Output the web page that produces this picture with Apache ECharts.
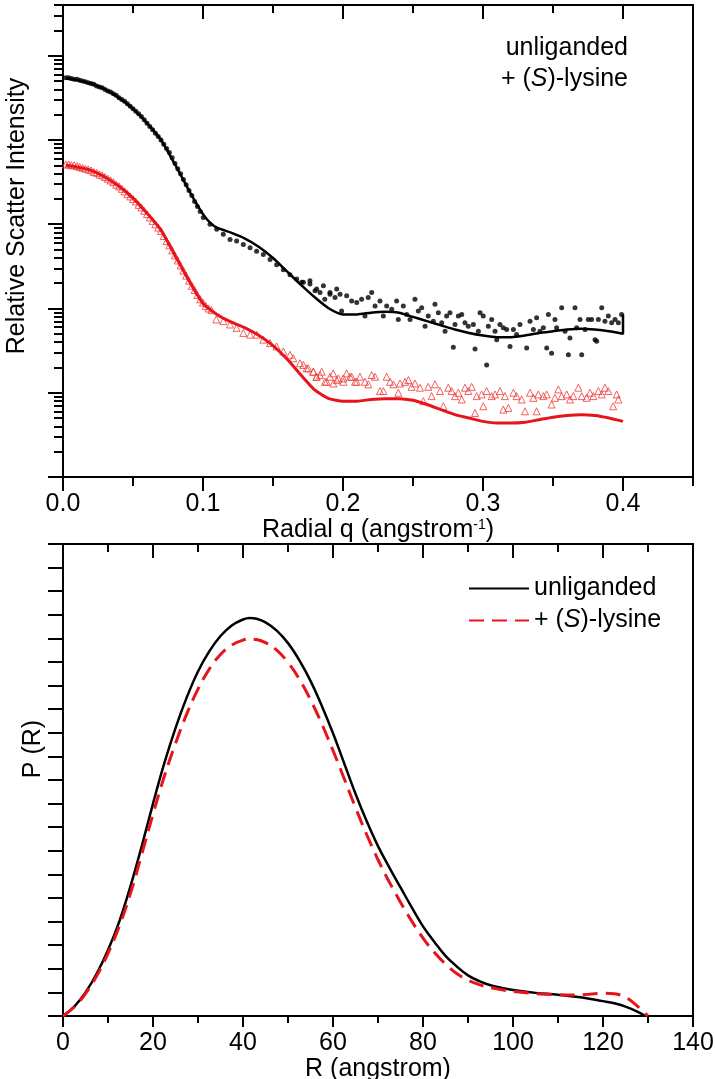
<!DOCTYPE html>
<html><head><meta charset="utf-8">
<script src="https://cdn.jsdelivr.net/npm/echarts@6/dist/echarts.min.js"></script>
<style>html,body{margin:0;padding:0;background:#fff}#c{width:715px;height:1079px}</style>
</head><body><div id="c"></div>
<script>
const FONT = '"Liberation Sans", Arial, Helvetica, sans-serif';

// ---------- Top panel: log10(relative scatter intensity) vs q ----------
const qMajorTicks = [0, 0.1, 0.2, 0.3, 0.4];
const qMinorTicks = [0.05, 0.15, 0.25, 0.35, 0.45];
const logIntensityDecades = [0, 1, 2, 3, 4, 5];
const logIntensityMax = Math.log10(4e5);

// unliganded, experimental points [q, log10 I]
const unligandedData = [
[0.002,4.74],[0.006,4.73],[0.010,4.72],[0.014,4.70],[0.018,4.68],[0.022,4.66],[0.026,4.63],[0.030,4.60],[0.034,4.57],[0.038,4.53],[0.042,4.48],[0.046,4.43],[0.050,4.37],[0.054,4.31],[0.058,4.24],[0.062,4.16],[0.066,4.08],[0.070,4.00],[0.074,3.90],[0.078,3.79],[0.082,3.66],[0.086,3.53],[0.090,3.40],[0.094,3.27],[0.098,3.15],
[0.004,4.74],[0.008,4.72],[0.012,4.71],[0.016,4.69],[0.020,4.67],[0.024,4.64],[0.028,4.62],[0.032,4.58],[0.036,4.55],[0.040,4.50],[0.044,4.46],[0.048,4.40],[0.052,4.34],[0.056,4.28],[0.060,4.20],[0.064,4.12],[0.068,4.04],[0.072,3.95],[0.076,3.85],[0.080,3.72],[0.084,3.60],[0.088,3.47],[0.092,3.34],[0.096,3.21],
[0.1002,3.08],[0.105,3.00],[0.1098,2.94],[0.1145,2.88],[0.1193,2.82],[0.124,2.80],[0.1288,2.76],[0.1336,2.72],[0.1383,2.68],[0.1431,2.64],[0.1479,2.58],[0.1526,2.52],[0.1574,2.46],[0.1621,2.40],[0.1669,2.35],[0.1717,2.31],[0.1764,2.29],[0.1812,2.23],[0.186,2.27],[0.1907,2.17],[0.1955,2.23],
[0.1705,2.31],[0.1764,2.33],[0.18,2.21],[0.1836,2.19],[0.187,2.11],[0.1907,2.19],[0.1943,2.13],[0.1979,2.17],[0.199,1.97],[0.2026,2.15],[0.2062,2.09],[0.2098,2.07],[0.2133,2.11],[0.2157,1.91],[0.218,2.13],[0.2205,2.19],[0.2229,2.03],[0.2264,2.09],[0.2288,1.91],[0.2312,2.03],[0.2348,1.99],[0.2383,2.09],[0.2395,1.87],[0.2431,2.03],[0.2455,1.93],[0.2479,1.87],[0.2514,2.11],[0.2538,1.97],[0.2562,2.01],[0.2586,1.79],[0.2609,1.91],[0.2645,1.85],[0.2657,2.05],[0.2681,1.95],[0.2705,1.83],[0.2729,1.73],[0.274,1.91],[0.2764,1.95],[0.2788,1.54],[0.28,1.81],[0.2824,1.91],[0.2848,1.93],[0.2871,1.83],[0.2895,1.79],[0.2931,1.81],[0.2943,1.52],[0.2967,1.73],[0.2979,1.95],[0.3002,1.91],[0.3026,1.33],[0.3038,1.79],[0.3062,1.87],[0.3086,1.73],[0.3098,1.63],[0.3121,1.81],[0.3145,1.77],[0.3169,1.75],[0.3193,1.55],[0.3217,1.75],[0.324,1.69],[0.3264,1.81],[0.3312,1.53],[0.3336,1.85],[0.336,1.75],[0.3383,1.89],[0.3407,1.73],[0.3431,1.77],[0.3455,1.53],[0.3467,1.93],[0.349,1.47],[0.3514,1.87],[0.3526,1.77],[0.3562,2.01],[0.3586,1.73],[0.361,1.45],[0.3621,1.65],[0.3657,2.01],[0.3669,1.77],[0.3693,1.87],[0.3705,1.45],[0.3729,1.75],[0.3752,1.87],[0.3776,1.87],[0.38,1.63],[0.3812,1.61],[0.3824,1.87],[0.3848,2.01],[0.3871,1.85],[0.3895,1.91],[0.3919,1.83],[0.3943,1.87],[0.3967,1.83],[0.399,1.93]
];
// unliganded, model curve
const unligandedFit = [
[0.002,4.73],[0.01,4.71],[0.02,4.67],[0.03,4.60],[0.04,4.50],[0.05,4.37],[0.06,4.20],[0.07,4.00],[0.08,3.71],[0.09,3.40],[0.10,3.12],[0.105,3.02],[0.11,2.96],[0.12,2.90],[0.13,2.83],[0.14,2.73],[0.15,2.60],[0.16,2.44],[0.17,2.28],[0.18,2.13],[0.19,2.00],[0.20,1.93],[0.21,1.93],[0.22,1.95],[0.23,1.96],[0.24,1.95],[0.25,1.90],[0.26,1.85],[0.27,1.80],[0.28,1.75],[0.29,1.71],[0.30,1.68],[0.31,1.66],[0.32,1.66],[0.33,1.68],[0.34,1.71],[0.35,1.73],[0.36,1.75],[0.37,1.76],[0.38,1.75],[0.39,1.73],[0.40,1.70],[0.40,1.93]
];
// + (S)-lysine, experimental points
const lysineData = [
[0.002,3.71],[0.006,3.70],[0.010,3.69],[0.014,3.67],[0.018,3.65],[0.022,3.62],[0.026,3.59],[0.030,3.56],[0.034,3.52],[0.038,3.47],[0.042,3.42],[0.046,3.36],[0.050,3.30],[0.054,3.23],[0.058,3.16],[0.062,3.08],[0.066,3.00],[0.070,2.92],[0.074,2.80],[0.078,2.69],[0.082,2.57],[0.086,2.45],[0.090,2.33],[0.094,2.22],[0.098,2.11],[0.102,2.03],[0.106,1.98],
[0.004,3.71],[0.008,3.70],[0.012,3.68],[0.016,3.66],[0.020,3.64],[0.024,3.61],[0.028,3.58],[0.032,3.54],[0.036,3.50],[0.040,3.45],[0.044,3.39],[0.048,3.33],[0.052,3.27],[0.056,3.20],[0.060,3.12],[0.064,3.04],[0.068,2.96],[0.072,2.86],[0.076,2.75],[0.080,2.63],[0.084,2.51],[0.088,2.39],[0.092,2.27],[0.096,2.16],[0.100,2.07],[0.104,2.00],
[0.1095,1.87],[0.1145,1.85],[0.1193,1.81],[0.124,1.77],[0.1288,1.71],[0.1336,1.69],[0.1383,1.69],[0.1431,1.63],[0.1479,1.59],[0.1526,1.55],[0.1574,1.49],[0.1621,1.45],[0.1645,1.41],[0.1693,1.35],[0.174,1.29],[0.1788,1.25],[0.181,1.19],[0.1836,1.21],[0.1883,1.13],[0.193,1.23],[0.1955,1.15],[0.2002,1.17],[0.205,1.19],[0.2098,1.13],
[0.1717,1.33],[0.1752,1.29],[0.1788,1.25],[0.1812,1.19],[0.1848,1.25],[0.1871,1.13],[0.1907,1.19],[0.1931,1.11],[0.1967,1.17],[0.2002,1.13],[0.2026,1.23],[0.2062,1.19],[0.2086,1.13],[0.2121,1.19],[0.2157,1.13],[0.2181,1.10],[0.2205,1.21],[0.2229,1.19],[0.2264,1.02],[0.2288,1.02],[0.2312,1.19],[0.2336,1.13],[0.236,1.10],[0.2395,1.00],[0.2407,1.11],[0.2443,1.13],[0.2467,1.15],[0.249,1.07],[0.2514,1.11],[0.255,1.06],[0.2574,0.90],[0.2609,1.07],[0.2633,0.96],[0.2657,1.10],[0.2693,1.02],[0.2717,0.84],[0.2752,1.06],[0.2776,1.02],[0.28,0.96],[0.2824,1.00],[0.2848,0.92],[0.2871,1.06],[0.2895,1.02],[0.2919,1.07],[0.2943,0.76],[0.2955,0.96],[0.299,0.98],[0.3002,0.84],[0.3026,1.02],[0.3062,0.96],[0.3086,0.98],[0.3121,1.02],[0.3145,0.80],[0.3157,0.96],[0.3181,0.82],[0.3217,1.00],[0.324,0.96],[0.3276,0.92],[0.33,0.78],[0.3336,1.00],[0.336,0.94],[0.3383,0.78],[0.3395,0.98],[0.3431,0.96],[0.3455,0.98],[0.349,0.86],[0.3514,0.94],[0.3538,1.04],[0.3562,0.96],[0.3598,0.98],[0.3621,0.92],[0.3645,0.96],[0.3681,1.06],[0.3705,0.96],[0.374,0.94],[0.3764,1.00],[0.3788,0.96],[0.3824,1.02],[0.3848,0.98],[0.3871,1.06],[0.3895,1.02],[0.393,0.84],[0.3955,0.98],[0.3967,0.92]
];
// + (S)-lysine, model curve
const lysineFit = [
[0.002,3.70],[0.01,3.68],[0.02,3.64],[0.03,3.56],[0.04,3.45],[0.05,3.31],[0.06,3.13],[0.07,2.93],[0.08,2.63],[0.09,2.33],[0.10,2.06],[0.11,1.93],[0.12,1.84],[0.13,1.77],[0.14,1.68],[0.15,1.56],[0.16,1.40],[0.17,1.21],[0.18,1.03],[0.19,0.93],[0.20,0.90],[0.21,0.90],[0.22,0.92],[0.23,0.93],[0.24,0.93],[0.25,0.91],[0.26,0.86],[0.27,0.80],[0.28,0.74],[0.29,0.70],[0.30,0.66],[0.31,0.64],[0.32,0.64],[0.33,0.65],[0.34,0.68],[0.35,0.71],[0.36,0.73],[0.37,0.74],[0.38,0.73],[0.39,0.70],[0.40,0.66]
];

// ---------- Bottom panel: P(R) vs R ----------
const rMajorTicks = [0, 20, 40, 60, 80, 100, 120, 140];
const rMinorTicks = [10, 30, 50, 70, 90, 110, 130];
const pTicks = [0,1,2,3,4,5,6,7,8,9,10,11,12,13,14,15,16,17,18,19,20];

const unligandedPR = [
[0,0],[2.5,0.4],[5,1.0],[7.5,1.8],[10,2.8],[12.5,4.0],[15,5.5],[17.5,7.2],[20,9.0],[22.5,10.7],[25,12.2],[27.5,13.5],[30,14.6],[32.5,15.45],[35,16.1],[37.5,16.55],[40,16.8],[41.5,16.86],[43,16.83],[45,16.68],[47.5,16.33],[50,15.8],[52.5,15.08],[55,14.2],[57.5,13.15],[60,11.98],[62.5,10.7],[65,9.42],[67.5,8.25],[70,7.2],[72.5,6.3],[75,5.45],[77.5,4.6],[80,3.8],[82.5,3.15],[85,2.55],[87.5,2.1],[90,1.72],[92.5,1.48],[95,1.3],[97.5,1.19],[100,1.1],[105,0.98],[110,0.9],[115,0.79],[120,0.63],[122.5,0.54],[125,0.4],[127.5,0.2],[129.5,0]
];
const lysinePR = [
[0,0],[2.5,0.38],[5,0.95],[7.5,1.7],[10,2.65],[12.5,3.8],[15,5.2],[17.5,6.85],[20,8.55],[22.5,10.15],[25,11.55],[27.5,12.8],[30,13.85],[32.5,14.7],[35,15.32],[37.5,15.72],[40,15.93],[41.5,15.97],[43,15.95],[45,15.82],[47.5,15.5],[50,14.98],[52.5,14.28],[55,13.4],[57.5,12.38],[60,11.25],[62.5,10.05],[65,8.83],[67.5,7.68],[70,6.62],[72.5,5.68],[75,4.82],[77.5,4.02],[80,3.3],[82.5,2.7],[85,2.2],[87.5,1.8],[90,1.52],[92.5,1.33],[95,1.2],[100,1.04],[105,0.95],[110,0.9],[114,0.89],[117,0.92],[120,0.96],[122.5,0.94],[124.5,0.84],[126.5,0.6],[128.5,0.27],[130,0]
];

// log-scale minor ticks (2..9 within each decade)
const logMinorTicks = [];
logIntensityDecades.forEach(d => {
  for (let m = 2; m <= 9; m++) {
    const v = d + Math.log10(m);
    if (v <= logIntensityMax + 1e-9) logMinorTicks.push(v);
  }
});

const BLACK = '#000';
const RED = '#e8141b';
const lineSt = { color: BLACK, width: 2 };

function axis(o) {
  return {
    type: 'value',
    gridIndex: o.grid,
    position: o.position,
    min: o.min, max: o.max,
    axisLine: { show: !!o.line, onZero: false, lineStyle: lineSt },
    axisTick: { show: !!o.ticks, inside: !!o.inside, length: o.len || 0, lineStyle: lineSt, customValues: o.ticks },
    axisLabel: o.labels ? {
      show: true, customValues: o.labels, margin: o.margin, formatter: o.fmt,
      fontFamily: FONT, fontSize: 25, color: BLACK
    } : { show: false },
    splitLine: { show: false },
    minorTick: { show: false },
    name: o.name || '',
    nameLocation: 'middle',
    nameGap: o.nameGap,
    nameTextStyle: o.nameStyle,
    silent: true
  };
}

const nameStyleBase = { fontFamily: FONT, fontSize: 25, color: BLACK };

const option = {
  animation: false,
  backgroundColor: '#fff',
  textStyle: { fontFamily: FONT },
  grid: [
    { left: 63, top: 5, width: 630, height: 472, outerBoundsMode: 'none', containLabel: false },
    { left: 63, top: 544, width: 630, height: 472, outerBoundsMode: 'none', containLabel: false }
  ],
  title: [
    { text: 'unliganded', right: 87, top: 36, padding: 0,
      textStyle: { fontFamily: FONT, fontSize: 25, fontWeight: 'normal', color: BLACK, lineHeight: 25 } },
    { text: '+ ({it|S})-lysine', right: 87, top: 67, padding: 0,
      textStyle: { fontFamily: FONT, fontSize: 25, fontWeight: 'normal', color: BLACK, lineHeight: 25,
        rich: { it: { fontFamily: FONT, fontSize: 25, fontStyle: 'italic', color: BLACK, lineHeight: 25 } } } }
  ],
  legend: {
    data: ['unliganded', '+ (S)-lysine'],
    orient: 'vertical', left: 468, top: 576, padding: 0,
    itemWidth: 60, itemHeight: 14, itemGap: 7,
    selectedMode: false,
    itemStyle: { opacity: 0 },
    formatter: n => n.replace('(S)', '({it|S})'),
    textStyle: { fontFamily: FONT, fontSize: 25, color: BLACK, lineHeight: 24,
      rich: { it: { fontFamily: FONT, fontSize: 25, fontStyle: 'italic', color: BLACK, lineHeight: 24 } } }
  },
  xAxis: [
    axis({ grid: 0, position: 'bottom', min: 0, max: 0.45, line: true, ticks: qMajorTicks, len: 14,
      labels: qMajorTicks, margin: 15, fmt: v => Number(v).toFixed(1),
      name: 'Radial q (angstrom{sup|-1})', nameGap: 40,
      nameStyle: Object.assign({}, nameStyleBase, { lineHeight: 25,
        rich: { sup: { fontFamily: FONT, fontSize: 14, color: BLACK, verticalAlign: 'top', lineHeight: 14 } } }) }),
    axis({ grid: 0, position: 'bottom', min: 0, max: 0.45, ticks: qMinorTicks, len: 9 }),
    axis({ grid: 0, position: 'top', min: 0, max: 0.45, line: true, ticks: qMajorTicks, len: 14, inside: true }),
    axis({ grid: 0, position: 'top', min: 0, max: 0.45, ticks: qMinorTicks, len: 8, inside: true }),
    axis({ grid: 1, position: 'bottom', min: 0, max: 140, line: true, ticks: rMajorTicks, len: 11,
      labels: rMajorTicks, margin: 15, name: 'R (angstrom)', nameGap: 30, nameStyle: nameStyleBase }),
    axis({ grid: 1, position: 'bottom', min: 0, max: 140, ticks: rMinorTicks, len: 7 }),
    axis({ grid: 1, position: 'top', min: 0, max: 140, line: true, ticks: rMajorTicks, len: 14, inside: true }),
    axis({ grid: 1, position: 'top', min: 0, max: 140, ticks: rMinorTicks, len: 8, inside: true })
  ],
  yAxis: [
    axis({ grid: 0, position: 'left', min: 0, max: logIntensityMax, line: true, ticks: logIntensityDecades, len: 15,
      name: 'Relative Scatter Intensity', nameGap: 33,
      nameStyle: Object.assign({}, nameStyleBase, { padding: [0, 0, 0, 50] }) }),
    axis({ grid: 0, position: 'left', min: 0, max: logIntensityMax, ticks: logMinorTicks, len: 9 }),
    axis({ grid: 0, position: 'right', min: 0, max: logIntensityMax, line: true }),
    axis({ grid: 1, position: 'left', min: 0, max: 20, line: true, ticks: pTicks, len: 15,
      name: 'P (R)', nameGap: 17,
      nameStyle: Object.assign({}, nameStyleBase, { padding: [0, 0, 0, 62] }) }),
    axis({ grid: 1, position: 'right', min: 0, max: 20, line: true })
  ],
  series: [
    { name: '+ (S)-lysine data', type: 'scatter', xAxisIndex: 0, yAxisIndex: 0, data: lysineData,
      symbol: 'triangle', symbolSize: 7, silent: true,
      itemStyle: { color: 'rgba(255,255,255,0)', borderColor: '#f03a3a', borderWidth: 1 } },
    { name: '+ (S)-lysine fit', type: 'line', xAxisIndex: 0, yAxisIndex: 0, data: lysineFit,
      symbol: 'none', smooth: 0.2, silent: true, lineStyle: { color: RED, width: 3 } },
    { name: 'unliganded fit', type: 'line', xAxisIndex: 0, yAxisIndex: 0, data: unligandedFit,
      symbol: 'none', smooth: 0.2, silent: true, lineStyle: { color: BLACK, width: 2.5 } },
    { name: 'unliganded data', type: 'scatter', xAxisIndex: 0, yAxisIndex: 0, data: unligandedData,
      symbol: 'circle', symbolSize: 5, silent: true, itemStyle: { color: BLACK } },
    { name: 'unliganded', type: 'line', xAxisIndex: 4, yAxisIndex: 3, data: unligandedPR,
      symbol: 'none', smooth: 0.4, silent: true, itemStyle: { color: BLACK },
      lineStyle: { color: BLACK, width: 2.5 } },
    { name: '+ (S)-lysine', type: 'line', xAxisIndex: 4, yAxisIndex: 3, data: lysinePR,
      symbol: 'none', smooth: 0.4, silent: true, itemStyle: { color: RED },
      lineStyle: { color: RED, width: 3, type: [15, 8] } }
  ]
};

const chart = echarts.init(document.getElementById('c'), null, { renderer: 'canvas' });
chart.setOption(option);
</script>
</body></html>
